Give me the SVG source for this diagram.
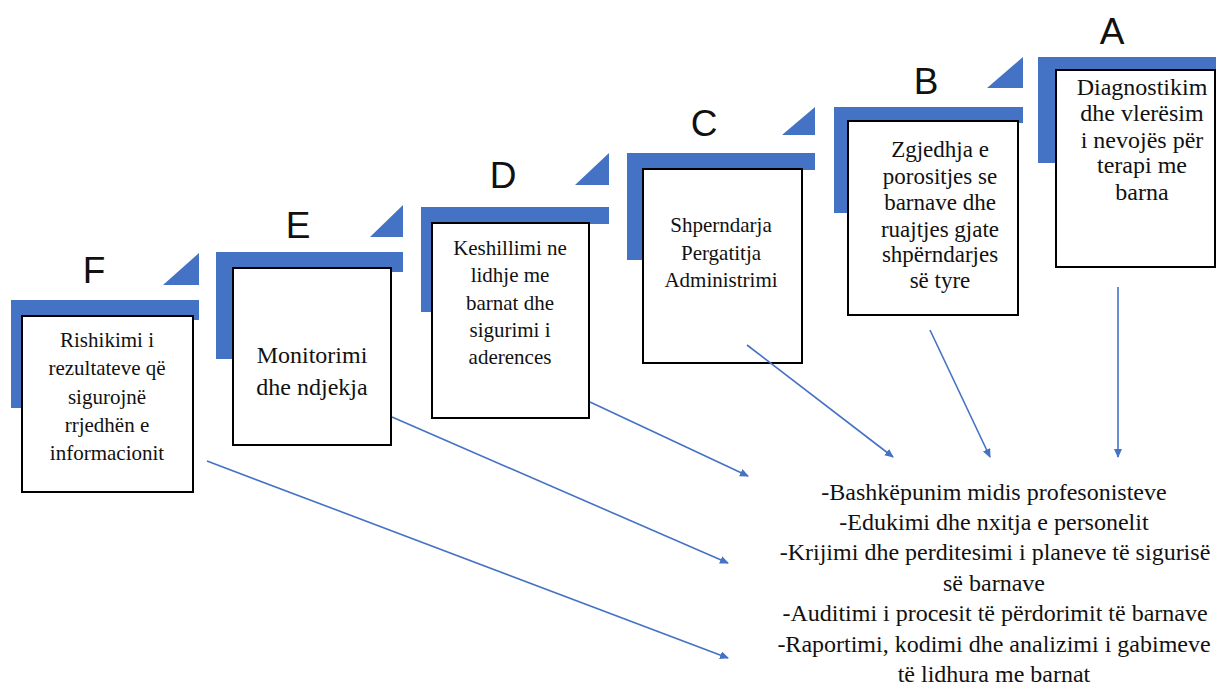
<svg xmlns="http://www.w3.org/2000/svg" width="1216" height="693" viewBox="0 0 1216 693">
<defs>
<style>
.step{fill:#4472C4}
.box{fill:#fff;stroke:#000;stroke-width:2}
.ltr{font-family:'Liberation Sans',Arial,sans-serif;font-size:37px;fill:#111;text-anchor:middle}
.t{font-family:'Liberation Serif','Times New Roman','DejaVu Serif',serif;font-size:21px;fill:#111;text-anchor:middle}
.big{font-size:24px}
.mid{font-size:23px}
.bt{font-family:'Liberation Serif','Times New Roman','DejaVu Serif',serif;font-size:24px;fill:#111;text-anchor:middle}
.con{stroke:#4472C4;stroke-width:1.6;fill:none;marker-end:url(#ah)}
</style>
<marker id="ah" markerWidth="10" markerHeight="10" refX="8" refY="4" orient="auto" markerUnits="userSpaceOnUse">
<path d="M0,0 L9,4 L0,8 Z" fill="#4472C4"/>
</marker>
</defs>
<rect width="1216" height="693" fill="#fff"/>

<g id="step-F">
<path class="step" d="M11,300 H199 V320 H31 V408 H11 Z"/>
<path class="step" d="M163,285 H199 V253 Z"/>
<text class="ltr" x="94" y="283">F</text>
<rect class="box" x="22" y="316" width="171" height="176"/>
<text class="t" x="107" y="347">Rishikimi i</text>
<text class="t" x="107" y="375">rezultateve që</text>
<text class="t" x="107" y="404">sigurojnë</text>
<text class="t" x="107" y="432">rrjedhën e</text>
<text class="t" x="107" y="460">informacionit</text>
</g>

<g id="step-E">
<path class="step" d="M216,252 H403 V272 H236 V359 H216 Z"/>
<path class="step" d="M370,237 H403 V205 Z"/>
<text class="ltr" x="298" y="238">E</text>
<rect class="box" x="233" y="268" width="158" height="177"/>
<text class="t big" x="312" y="363">Monitorimi</text>
<text class="t big" x="312" y="395">dhe ndjekja</text>
</g>

<g id="step-D">
<path class="step" d="M421,207 H609 V224 H441 V312 H421 Z"/>
<path class="step" d="M575,185 H609 V153 Z"/>
<text class="ltr" x="503" y="188">D</text>
<rect class="box" x="432" y="223" width="157" height="195"/>
<text class="t" x="510" y="255">Keshillimi ne</text>
<text class="t" x="510" y="282">lidhje me</text>
<text class="t" x="510" y="310">barnat dhe</text>
<text class="t" x="510" y="337">sigurimi i</text>
<text class="t" x="510" y="364">aderences</text>
</g>

<g id="step-C">
<path class="step" d="M627,153 H815 V170 H647 V260 H627 Z"/>
<path class="step" d="M782,135 H815 V107 Z"/>
<text class="ltr" x="704" y="136">C</text>
<rect class="box" x="643" y="169" width="159" height="194"/>
<text class="t" x="721" y="232">Shperndarja</text>
<text class="t" x="721" y="260">Pergatitja</text>
<text class="t" x="721" y="287">Administrimi</text>
</g>

<g id="step-B">
<path class="step" d="M834,107 H1023 V123 H854 V213 H834 Z"/>
<path class="step" d="M987,88 H1023 V57 Z"/>
<text class="ltr" x="926" y="94">B</text>
<rect class="box" x="848" y="121" width="170" height="194"/>
<text class="t mid" x="940" y="157">Zgjedhja e</text>
<text class="t mid" x="940" y="184">porositjes se</text>
<text class="t mid" x="940" y="210">barnave dhe</text>
<text class="t mid" x="940" y="237">ruajtjes gjate</text>
<text class="t mid" x="940" y="262">shpërndarjes</text>
<text class="t mid" x="940" y="288">së tyre</text>
</g>

<g id="step-A">
<path class="step" d="M1038,57 H1216 V73 H1058 V163 H1038 Z"/>
<text class="ltr" x="1112" y="44">A</text>
<rect class="box" x="1056" y="70" width="159" height="197"/>
<text class="t big" x="1142" y="95">Diagnostikim</text>
<text class="t big" x="1142" y="121">dhe vlerësim</text>
<text class="t big" x="1142" y="148">i nevojës për</text>
<text class="t big" x="1142" y="173">terapi me</text>
<text class="t big" x="1142" y="200">barna</text>
</g>

<g id="connectors">
<line class="con" x1="1118" y1="287" x2="1118" y2="457"/>
<line class="con" x1="930" y1="330" x2="990" y2="457"/>
<line class="con" x1="747" y1="345" x2="893" y2="457"/>
<line class="con" x1="590" y1="402" x2="748" y2="476"/>
<line class="con" x1="392" y1="417" x2="728" y2="563"/>
<line class="con" x1="207" y1="461" x2="728" y2="658"/>
</g>

<g id="outcomes">
<text class="bt" x="994" y="500">-Bashkëpunim midis profesonisteve</text>
<text class="bt" x="994" y="530">-Edukimi dhe nxitja e personelit</text>
<text class="bt" x="995" y="560">-Krijimi dhe perditesimi i planeve të sigurisë</text>
<text class="bt" x="994" y="591">së barnave</text>
<text class="bt" x="995" y="621">-Auditimi i procesit të përdorimit të barnave</text>
<text class="bt" x="994" y="652">-Raportimi, kodimi dhe analizimi i gabimeve</text>
<text class="bt" x="994" y="682">të lidhura me barnat</text>
</g>
</svg>
